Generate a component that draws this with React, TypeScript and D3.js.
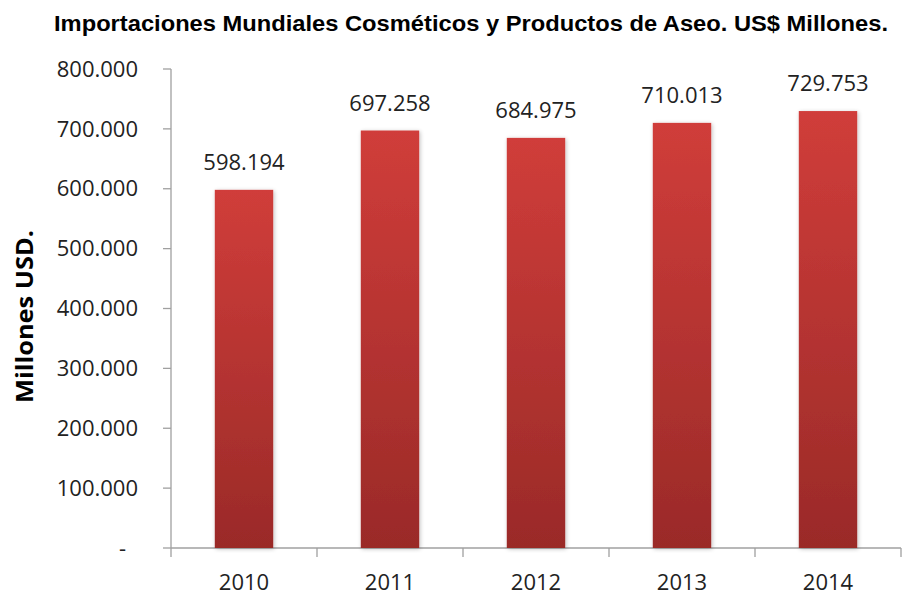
import React from "react";
import * as d3 from "d3";

const years = ["2010", "2011", "2012", "2013", "2014"];
const values = [598194, 697258, 684975, 710013, 729753];
const labels = ["598.194", "697.258", "684.975", "710.013", "729.753"];
const yTicks = [0, 100000, 200000, 300000, 400000, 500000, 600000, 700000, 800000];
const yTickLabels = ["-", "100.000", "200.000", "300.000", "400.000", "500.000", "600.000", "700.000", "800.000"];

const W = 903, H = 598;
const M = { left: 171, right: 901, top: 69, bottom: 548 };

export default function App() {
  const x = d3.scaleBand<string>().domain(years).range([M.left, M.right]).paddingInner(0.6).paddingOuter(0.3);
  const xc = d3.scaleBand<string>().domain(years).range([M.left, M.right]);
  const y = d3.scaleLinear().domain([0, 800000]).range([M.bottom, M.top]);
  const font = "'Open Sans', sans-serif";
  return (
    <svg width={W} height={H} style={{ position: "absolute", left: 0, top: 0, background: "#fff" }}>
      <defs>
        <linearGradient id="barg" x1="0" y1="0" x2="0" y2="1">
          <stop offset="0" stopColor="#d03d3a" />
          <stop offset="1" stopColor="#9a2a28" />
        </linearGradient>
        <filter id="sh" x="-20%" y="-5%" width="140%" height="110%">
          <feGaussianBlur in="SourceAlpha" stdDeviation="2" />
          <feOffset dx="1" dy="1" result="b" />
          <feComponentTransfer><feFuncA type="linear" slope="0.25" /></feComponentTransfer>
          <feMerge><feMergeNode /><feMergeNode in="SourceGraphic" /></feMerge>
        </filter>
      </defs>
      <text x={54} y={31} textLength={834} lengthAdjust="spacingAndGlyphs" fontFamily="'Liberation Sans', Arial, sans-serif" fontWeight="bold" fontSize={22} fill="#000">
        Importaciones Mundiales Cosméticos y Productos de Aseo. US$ Millones.
      </text>
      <text transform={`translate(33,${403}) rotate(-90)`} textLength={173} lengthAdjust="spacingAndGlyphs" fontFamily={font} fontWeight="bold" fontSize={23} fill="#000">
        Millones USD.
      </text>
      {/* y axis */}
      <line x1={M.left} x2={M.left} y1={M.top} y2={M.bottom} stroke="#a0a0a0" strokeWidth={1.3} />
      {yTicks.map((t, i) => (
        <g key={t}>
          <line x1={M.left - 8} x2={M.left} y1={y(t)} y2={y(t)} stroke="#a0a0a0" strokeWidth={1.3} />
          <text x={t === 0 ? 126 : 138} y={y(t)} dy="0.35em" textAnchor="end" fontFamily={font} fontSize={22} fill="#222">
            {yTickLabels[i]}
          </text>
        </g>
      ))}
      {/* x axis */}
      <line x1={M.left} x2={M.right} y1={M.bottom} y2={M.bottom} stroke="#a0a0a0" strokeWidth={1.3} />
      {years.map((yr, i) => (
        <line key={"t" + yr} x1={M.left + xc.step() * i} x2={M.left + xc.step() * i} y1={M.bottom} y2={M.bottom + 9} stroke="#a0a0a0" strokeWidth={1.3} />
      ))}
      <line x1={M.right} x2={M.right} y1={M.bottom} y2={M.bottom + 9} stroke="#a0a0a0" strokeWidth={1.3} />
      {years.map((yr, i) => (
        <g key={yr}>
          <rect x={x(yr)} y={y(values[i])} width={x.bandwidth()} height={M.bottom - y(values[i])} fill="url(#barg)" filter="url(#sh)" />
          <text x={x(yr)! + x.bandwidth() / 2} y={y(values[i]) - 20} textAnchor="middle" fontFamily={font} fontSize={22} fill="#222">
            {labels[i]}
          </text>
          <text x={xc(yr)! + xc.bandwidth() / 2} y={590} textAnchor="middle" fontFamily={font} fontSize={22} fill="#222">
            {yr}
          </text>
        </g>
      ))}
    </svg>
  );
}
